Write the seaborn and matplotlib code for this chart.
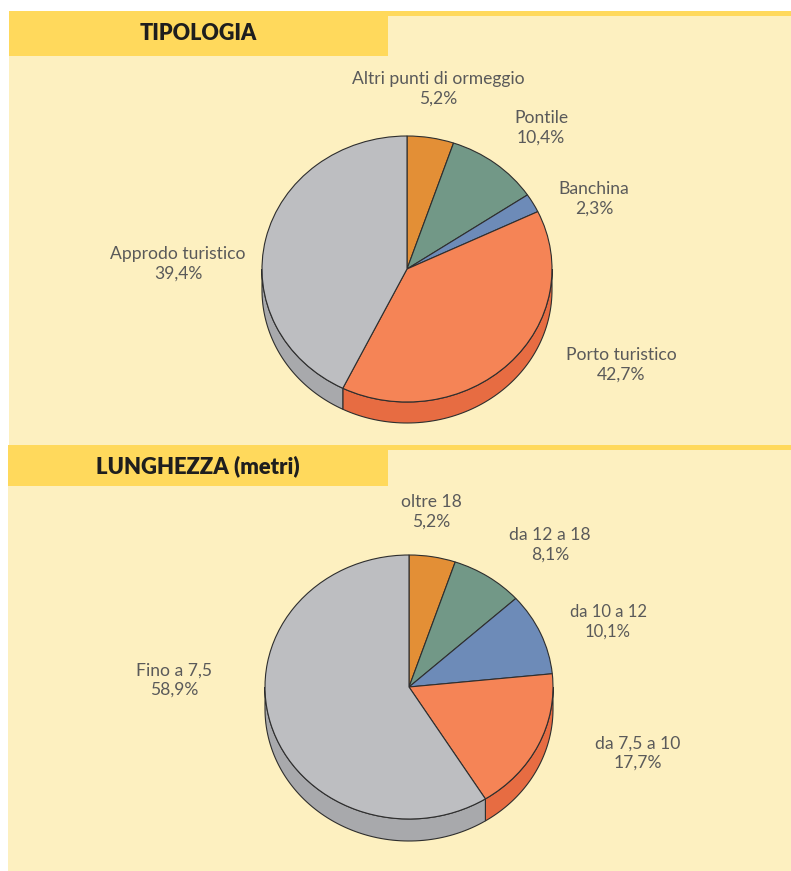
import numpy as np
import seaborn as sns
import matplotlib.pyplot as plt
from matplotlib.patches import Rectangle, Polygon

sns.set_theme(style="white")
plt.rcParams['font.family'] = ['Lato', 'DejaVu Sans']

# ---------------- data ----------------
# TIPOLOGIA (slice sizes as drawn in the original, clockwise from 12 o'clock)
tip_names = ["Altri punti di ormeggio", "Pontile", "Banchina", "Porto turistico", "Approdo turistico"]
tip_sizes = [5.2, 10.4, 2.3, 39.4, 42.7]
tip_pct = ["5,2%", "10,4%", "2,3%", "42,7%", "39,4%"]

# LUNGHEZZA (metri)
lun_names = ["oltre 18", "da 12 a 18", "da 10 a 12", "da 7,5 a 10", "Fino a 7,5"]
lun_sizes = [5.2, 8.1, 10.1, 17.7, 58.9]
lun_pct = ["5,2%", "8,1%", "10,1%", "17,7%", "58,9%"]

top_colors = ["#E38F36", "#729887", "#6D8BB8", "#F58456", "#BDBEC1"]
side_colors = ["#C97A2A", "#5F8373", "#5A77A2", "#E76C42", "#A8A9AC"]

light = "#FDF0C0"
dark = "#FFD95C"
edge = "#2E2E2E"
txt = "#5A5A5A"

W, H = 791, 871
fig = plt.figure(figsize=(W / 100, H / 100), dpi=100)
fig.patch.set_facecolor("white")

# background axes in pixel coordinates (origin top-left)
bg = fig.add_axes([0, 0, 1, 1], zorder=0)
bg.set_xlim(0, W)
bg.set_ylim(H, 0)
bg.axis("off")

bg.add_patch(Rectangle((9, 11), W - 9, 434, color=light, lw=0))
bg.add_patch(Rectangle((9, 11), W - 9, 5, color=dark, lw=0))
bg.add_patch(Rectangle((9, 11), 379, 45, color=dark, lw=0))
bg.add_patch(Rectangle((8, 445), W - 8, H - 445, color=light, lw=0))
bg.add_patch(Rectangle((8, 445), W - 8, 5, color=dark, lw=0))
bg.add_patch(Rectangle((8, 445), 380, 41, color=dark, lw=0))

bg.text(198, 34, "TIPOLOGIA", ha="center", va="center", fontsize=15.5,
        fontweight="heavy", color="#1E1E1E")
bg.text(198, 466, "LUNGHEZZA (metri)", ha="center", va="center", fontsize=15.8,
        fontweight="heavy", color="#1E1E1E")


def pie3d(cx, cy, rx, ry, depth, sizes):
    ax = fig.add_axes([(cx - 1.25 * rx) / W, 1 - (cy + 1.25 * ry) / H,
                       2.5 * rx / W, 2.5 * ry / H], zorder=2)
    wedges, _ = ax.pie(sizes, colors=top_colors, startangle=90, counterclock=False,
                       wedgeprops=dict(edgecolor=edge, linewidth=0.8))
    d = depth / ry
    for w, c in zip(wedges, side_colors):
        w.set_zorder(3)
        a, b = max(w.theta1, -180), min(w.theta2, 0)
        if a < b:
            th = np.radians(np.linspace(a, b, 80))
            up = np.column_stack([np.cos(th), np.sin(th)])
            lo = np.column_stack([np.cos(th[::-1]), np.sin(th[::-1]) - d])
            ax.add_patch(Polygon(np.vstack([up, lo]), closed=True, facecolor=c,
                                 edgecolor=edge, linewidth=0.8, zorder=1))
    ax.set_aspect("auto")
    ax.set_xlim(-1.25, 1.25)
    ax.set_ylim(-1.25, 1.25)
    ax.axis("off")
    return ax


pie3d(407, 269, 145, 133, 21, tip_sizes)
pie3d(409, 687, 144, 132, 22, lun_sizes)

# labels
tip_pos = [(438, 89), (541, 128), (594, 199), (621, 365), (178, 264)]
lun_pos = [(431, 512), (550, 545), (608, 622), (638, 753), (174, 680)]
lun_fs = [12.6, 12.6, 12, 12.6, 12.6]

for name, pct, (x, y) in zip(tip_names, tip_pct, tip_pos):
    bg.text(x, y, name + "\n" + pct, ha="center", va="center", fontsize=12.6,
            color=txt, linespacing=1.25)
for name, pct, (x, y), fs in zip(lun_names, lun_pct, lun_pos, lun_fs):
    bg.text(x, y, name + "\n" + pct, ha="center", va="center", fontsize=fs,
            color=txt, linespacing=1.25)

fig.savefig("out.png", dpi=100)
